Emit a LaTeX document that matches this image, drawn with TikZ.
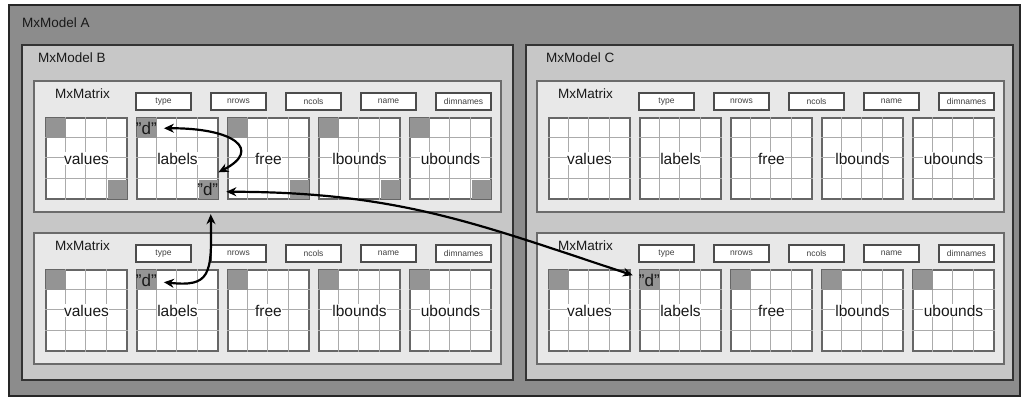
\documentclass[tikz,border=0pt]{standalone}
\usepackage{fontspec}
\setmainfont{Liberation Sans}
\usetikzlibrary{arrows.meta}

\tikzset{
  modelA/.style={draw=black!85, fill=black!45, line width=1.2pt, minimum width=1011pt, minimum height=391pt, inner sep=0pt},
  modelsub/.style={draw=black!80, fill=black!22, line width=1.2pt, minimum height=335pt, inner sep=0pt},
  matbox/.style={draw=black!58, fill=black!9, line width=1.6pt, minimum width=467pt, minimum height=131pt, inner sep=0pt},
  attrbox/.style={draw=black!70, fill=white, line width=1.3pt, minimum width=55pt, minimum height=17pt, inner sep=0pt, font=\fontsize{8.5}{10}\selectfont, text=black!75},
  gridbox/.style={draw=black!60, fill=white, line width=1.5pt, minimum size=81pt, inner sep=0pt},
  cellline/.style={draw=black!33, line width=1pt},
  cellfill/.style={fill=black!42},
  gridlab/.style={fill=white, inner sep=0.5pt, font=\fontsize{15.5}{18}\selectfont, text=black!90},
  hdr/.style={anchor=west, inner sep=0pt, font=\fontsize{13.5}{16}\selectfont, text=black!90},
  dmark/.style={inner sep=2pt, font=\fontsize{17}{20}\selectfont, text=black!90},
  link/.style={draw=black, line width=2.2pt, {Stealth[length=10pt,width=9pt]}-{Stealth[length=10pt,width=9pt]}}
}

\newcommand{\mxmat}[3]{%
  \node[matbox] (#1) at ({#2+233.5},{#3+65.5}) {};
  \node[hdr] (#1-hdr) at ({#2+21},{#3+13}) {MxMatrix};
  \foreach \t [count=\i from 0] in {type,nrows,ncols,name,dimnames}
    \node[attrbox] (#1-\t) at ({#2+129.5+75*\i},{#3+20.5}) {\t};
  \foreach \g [count=\i from 0] in {values,labels,free,lbounds,ubounds} {
    \node[gridbox] (#1-\g) at ({#2+52.5+91*\i},{#3+77.5}) {};
    \foreach \k in {1,2,3} {
      \draw[cellline] ([xshift=\k*20.25pt]#1-\g.north west) -- ([xshift=\k*20.25pt]#1-\g.south west);
      \draw[cellline] ([yshift=-\k*20.25pt]#1-\g.north west) -- ([yshift=-\k*20.25pt]#1-\g.north east);
    }
    \node[gridlab] (#1-\g-lab) at (#1-\g) {\g};
  }
}
\newcommand{\greytl}[1]{\fill[cellfill] ([shift={(0.75,0.75)}]#1.north west) rectangle +(19.5,19.5);}
\newcommand{\greybr}[1]{\fill[cellfill] ([shift={(-0.75,-0.75)}]#1.south east) rectangle +(-19.5,-19.5);}

\begin{document}
\begin{tikzpicture}[x=1pt, y=-1pt]
  \path[use as bounding box, fill=white] (0,0) rectangle (1025,399);

  \node[modelA] (mA) at (514.5,200.5) {};
  \node[hdr] (mA-hdr) at (22,23) {MxModel A};
  \node[modelsub, minimum width=491pt] (mB) at (267.5,212.5) {};
  \node[hdr] (mB-hdr) at (38,58) {MxModel B};
  \node[modelsub, minimum width=487pt] (mC) at (769.5,212.5) {};
  \node[hdr] (mC-hdr) at (546,58) {MxModel C};

  \mxmat{bt}{34}{81}
  \mxmat{bb}{34}{233}
  \mxmat{ct}{537}{81}
  \mxmat{cb}{537}{233}

  \foreach \g in {values,labels,free,lbounds,ubounds} {
    \greytl{bt-\g} \greybr{bt-\g}
    \greytl{bb-\g}
    \greytl{cb-\g}
  }

  \node[dmark] (dBtl) at ([shift={(10.1,11)}]bt-labels.north west) {"d"};
  \node[dmark] (dBbr) at ([shift={(-11,-10)}]bt-labels.south east) {"d"};
  \node[dmark] (dBbl) at ([shift={(10.1,11)}]bb-labels.north west) {"d"};
  \node[dmark] (dCbl) at ([shift={(10.1,11)}]cb-labels.north west) {"d"};

  \draw[link] ([xshift=5pt]dBtl.east) .. controls (235,128) and (262,150) .. ([shift={(-2,-9)}]dBbr.north east);
  \draw[link] ([shift={(6,2)}]dBbr.east) .. controls (400,192) and (480,225) .. ([shift={(-4,-5)}]dCbl.west);
  \draw[link] ([shift={(3,16)}]dBbr.south) .. controls (212,275) and (210,287) .. ([shift={(5,2)}]dBbl.east);
\end{tikzpicture}
\end{document}
